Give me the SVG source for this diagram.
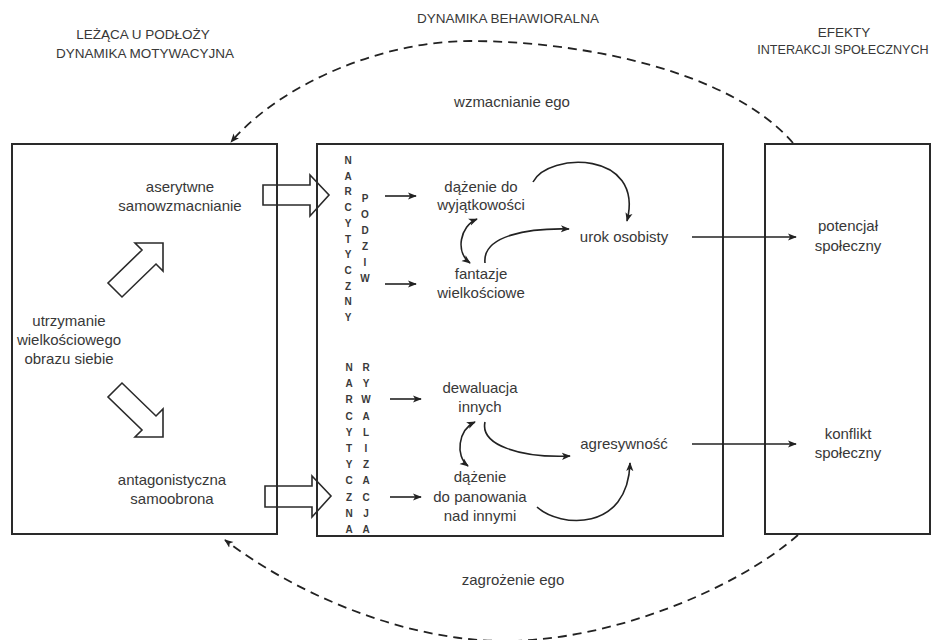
<svg xmlns="http://www.w3.org/2000/svg" width="936" height="640" viewBox="0 0 936 640">
<defs>
<style>
.t{font-family:"Liberation Sans","DejaVu Sans",sans-serif;font-size:15px;fill:#383838;text-anchor:middle}
.h{font-family:"Liberation Sans","DejaVu Sans",sans-serif;font-size:13.5px;fill:#383838;text-anchor:middle}
.v{font-family:"Liberation Sans","DejaVu Sans",sans-serif;font-size:10px;font-weight:bold;fill:#3a3a3a;text-anchor:middle}
.box{fill:none;stroke:#2a2a2a;stroke-width:2}
.blk{fill:#fff;stroke:#2a2a2a;stroke-width:1.6;stroke-linejoin:miter}
.c{fill:none;stroke:#222;stroke-width:1.6;marker-end:url(#ah)}
.cc{fill:none;stroke:#222;stroke-width:1.6;marker-end:url(#ah);marker-start:url(#ah)}
.d{fill:none;stroke:#222;stroke-width:1.8;stroke-dasharray:9 6;marker-end:url(#ah)}
</style>
<marker id="ah" viewBox="0 0 10 10" refX="9" refY="5" markerWidth="9" markerHeight="9" markerUnits="userSpaceOnUse" orient="auto-start-reverse">
<path d="M0,1 L10,5 L0,9 L2.5,5 z" fill="#222"/>
</marker>
</defs>
<rect width="936" height="640" fill="#fff"/>

<g id="headers">
<text class="h" x="143" y="39">LEŻĄCA U PODŁOŻY</text>
<text class="h" x="145" y="58">DYNAMIKA MOTYWACYJNA</text>
<text class="h" x="508" y="23">DYNAMIKA BEHAWIORALNA</text>
<text class="h" x="844" y="37">EFEKTY</text>
<text class="h" x="843" y="54" style="font-size:12.6px">INTERAKCJI SPOŁECZNYCH</text>
<text class="t" x="512" y="107">wzmacnianie ego</text>
<text class="t" x="513" y="585">zagrożenie ego</text>
</g>

<g id="block-arrows">
<polygon class="blk" points="263,185 310,185 310,175 329,195 310,216 310,205 263,205"/>
<polygon class="blk" points="265,486 312,486 312,476 331,496 312,517 312,507 265,507"/>
<polygon class="blk" points="163,243 163,271 156,264 122,297 108,283 142,250 135,243"/>
<polygon class="blk" points="163,437 163,409 156,416 122,383 108,397 142,430 135,437"/>
</g>

<g id="left-box">
<rect class="box" x="12" y="144" width="265" height="390"/>
<text class="t" x="180" y="192">aserytwne</text>
<text class="t" x="180" y="211">samowzmacnianie</text>
<text class="t" x="69" y="326">utrzymanie</text>
<text class="t" x="69" y="345">wielkościowego</text>
<text class="t" x="69" y="364">obrazu siebie</text>
<text class="t" x="172" y="485">antagonistyczna</text>
<text class="t" x="172" y="504">samoobrona</text>
</g>

<g id="middle-box">
<rect class="box" x="317" y="144" width="406" height="392"/>
<text class="v" x="348"><tspan x="348" y="164">N</tspan><tspan x="348" y="179.7">A</tspan><tspan x="348" y="195.4">R</tspan><tspan x="348" y="211.1">C</tspan><tspan x="348" y="226.8">Y</tspan><tspan x="348" y="242.5">T</tspan><tspan x="348" y="258.2">Y</tspan><tspan x="348" y="273.9">C</tspan><tspan x="348" y="289.6">Z</tspan><tspan x="348" y="305.3">N</tspan><tspan x="348" y="321">Y</tspan></text>
<text class="v" x="365"><tspan x="365" y="202">P</tspan><tspan x="365" y="218">O</tspan><tspan x="365" y="234">D</tspan><tspan x="365" y="250">Z</tspan><tspan x="365" y="266">I</tspan><tspan x="365" y="282">W</tspan></text>
<text class="v" x="349"><tspan x="349" y="371">N</tspan><tspan x="349" y="387.2">A</tspan><tspan x="349" y="403.4">R</tspan><tspan x="349" y="419.6">C</tspan><tspan x="349" y="435.8">Y</tspan><tspan x="349" y="452">T</tspan><tspan x="349" y="468.2">Y</tspan><tspan x="349" y="484.4">C</tspan><tspan x="349" y="500.6">Z</tspan><tspan x="349" y="516.8">N</tspan><tspan x="349" y="533">A</tspan></text>
<text class="v" x="366"><tspan x="366" y="371">R</tspan><tspan x="366" y="387.2">Y</tspan><tspan x="366" y="403.4">W</tspan><tspan x="366" y="419.6">A</tspan><tspan x="366" y="435.8">L</tspan><tspan x="366" y="452">I</tspan><tspan x="366" y="468.2">Z</tspan><tspan x="366" y="484.4">A</tspan><tspan x="366" y="500.6">C</tspan><tspan x="366" y="516.8">J</tspan><tspan x="366" y="533">A</tspan></text>
</g>

<g id="node-dazenie-wyjatkowosc"><text class="t" x="481" y="192">dążenie do</text><text class="t" x="481" y="210">wyjątkowości</text></g>
<g id="node-fantazje"><text class="t" x="481" y="279">fantazje</text><text class="t" x="481" y="298">wielkościowe</text></g>
<g id="node-urok"><text class="t" x="624" y="242">urok osobisty</text></g>
<g id="node-dewaluacja"><text class="t" x="480" y="393">dewaluacja</text><text class="t" x="480" y="412">innych</text></g>
<g id="node-dazenie-panowanie"><text class="t" x="480" y="482">dążenie</text><text class="t" x="480" y="502">do panowania</text><text class="t" x="480" y="521">nad innymi</text></g>
<g id="node-agresywnosc"><text class="t" x="624" y="449">agresywność</text></g>

<g id="right-box">
<rect class="box" x="765" y="144" width="165" height="390"/>
<text class="t" x="848" y="231">potencjał</text>
<text class="t" x="848" y="251">społeczny</text>
<text class="t" x="848" y="439">konflikt</text>
<text class="t" x="848" y="458">społeczny</text>
</g>

<g id="connectors">
<path class="d" d="M793,143 C730,70 580,41 470,41 C380,41 280,85 231,142"/>
<path class="d" d="M798,535 C735,590 610,641 505,641 C400,641 290,590 225,540"/>
<line class="c" x1="385" y1="196" x2="416" y2="196"/>
<line class="c" x1="385" y1="284" x2="416" y2="284"/>
<line class="c" x1="390" y1="399" x2="421" y2="399"/>
<line class="c" x1="390" y1="497" x2="421" y2="497"/>
<path class="c" d="M533,182 C548,152 645,150 627,221"/>
<path class="c" d="M485,263 C482,235 530,228 569,229"/>
<path class="cc" d="M477,219 C460,226 455,252 470,263"/>
<path class="c" d="M485,422 C480,445 520,458 570,456"/>
<path class="c" d="M537,507 C560,528 628,532 630,463"/>
<path class="cc" d="M475,422 C458,430 455,456 468,466"/>
<line class="c" x1="692" y1="237" x2="796" y2="237"/>
<line class="c" x1="692" y1="444" x2="796" y2="444"/>
</g>
</svg>
